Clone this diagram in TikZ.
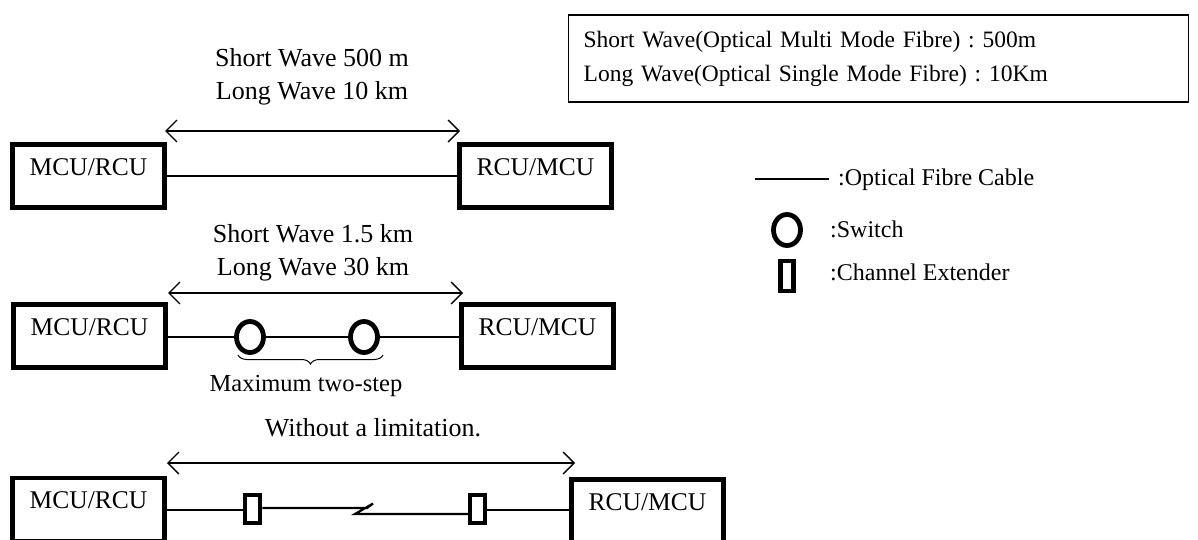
\documentclass[tikz,border=0pt]{standalone}
\usepackage{fontspec}
\setmainfont{Liberation Serif}
\frenchspacing
\usetikzlibrary{arrows.meta,decorations.pathreplacing,shapes.geometric}
\begin{document}
\begin{tikzpicture}[x=1pt,y=-1pt,
  every node/.style={font=\fontsize{24}{33}\selectfont},
  big/.style={font=\fontsize{26}{33}\selectfont},
  unitbox/.style={draw, line width=4.5pt, minimum width=152pt, minimum height=63pt, inner sep=0pt},
  fibre/.style={line width=2.2pt},
  span/.style={line width=1.4pt, {Straight Barb[length=11pt,width=22pt,line width=1.4pt]}-{Straight Barb[length=11pt,width=22pt,line width=1.4pt]}},
  switchnode/.style={draw, ellipse, line width=4.8pt, minimum width=27pt, minimum height=31pt, inner sep=0pt},
  extnode/.style={draw, rectangle, line width=4.5pt, minimum width=15pt, minimum height=28pt, inner sep=0pt},
  lbl/.style={anchor=base, yshift=-33pt, font=\fontsize{25.5}{30}\selectfont}
]
\useasboundingbox (0,0) rectangle (1198,540);
\clip (0,0) rectangle (1198,540);

% info box
\node[draw, line width=1.3pt, anchor=north west, minimum width=620pt, minimum height=87pt,
      inner xsep=15pt, text width=589pt, align=left, font=\fontsize{23.5}{34}\selectfont] (info) at (567.5,14.5)
  {Short Wave(Optical Multi Mode Fibre) : 500m\\Long Wave(Optical Single Mode Fibre) : 10Km};

% row 1
\node[unitbox, label={[lbl]north:MCU/RCU}] (A1) at (88.5,176) {};
\node[unitbox, label={[lbl]north:RCU/MCU}] (B1) at (535.5,176) {};
\draw[fibre] (A1.east) -- (B1.west);
\coordinate (a1l) at (165,131);
\coordinate (a1r) at (460,131);
\draw[span] (a1l) -- (a1r);
\node[big, align=center] (t1) at (312,77) {Short Wave 500 m\\Long Wave 10 km};

% row 2
\node[unitbox, label={[lbl]north:MCU/RCU}] (A2) at (89.5,336) {};
\node[unitbox, label={[lbl]north:RCU/MCU}] (B2) at (537.5,336) {};
\node[switchnode] (s1) at (250,337) {};
\node[switchnode] (s2) at (364,337) {};
\draw[fibre] (A2.east |- s1.west) -- (s1.west);
\draw[fibre] (s1.east) -- (s2.west);
\draw[fibre] (s2.east) -- (s2.east -| B2.west);
\coordinate (a2l) at (168,293);
\coordinate (a2r) at (463,293);
\draw[span] (a2l) -- (a2r);
\node[big, align=center] (t2) at (313,253) {Short Wave 1.5 km\\Long Wave 30 km};
\coordinate (br1) at (238,355);
\coordinate (br2) at (383,355);
\draw[line width=1pt, decorate, decoration={brace, mirror, amplitude=9pt}] (br1) -- (br2);
\node[font=\fontsize{24.5}{30}\selectfont] (t2b) at (306,386) {Maximum two-step};

% row 3
\node[unitbox, label={[lbl]north:MCU/RCU}] (A3) at (88.5,509.5) {};
\node[unitbox, label={[lbl]north:RCU/MCU}] (B3) at (647.5,511) {};
\node[extnode] (e1) at (252.5,509) {};
\node[extnode] (e2) at (477.5,509) {};
\coordinate (z1) at (367,508);
\coordinate (z2) at (373,503.5);
\coordinate (z3) at (355,514);
\draw[fibre] (A3.east |- 0,510) -- (e1.west |- 0,510);
\draw[fibre] (e1.east |- 0,508) -- (z1) -- (z2) -- (z3) -- (z3 -| e2.west);
\draw[fibre] (e2.east |- 0,510) -- (B3.west |- 0,510);
\coordinate (a3l) at (167,463);
\coordinate (a3r) at (575,463);
\draw[span] (a3l) -- (a3r);
\node[big] (t3) at (373,428) {Without a limitation.};

% legend
\coordinate (lf1) at (755,179);
\coordinate (lf2) at (829,179);
\draw[fibre] (lf1) -- (lf2);
\node[anchor=west, inner sep=0pt] (lt1) at (838,180) {:Optical Fibre Cable};
\node[switchnode, minimum width=27pt, minimum height=31pt] (ls) at (787,230) {};
\node[anchor=west, inner sep=0pt] (lt2) at (830,229) {:Switch};
\node[extnode, minimum width=13pt, minimum height=30pt] (le) at (787,276) {};
\node[anchor=west, inner sep=0pt] (lt3) at (830,272) {:Channel Extender};
\end{tikzpicture}
\end{document}
